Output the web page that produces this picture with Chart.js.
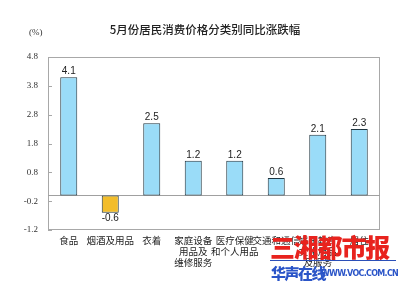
<!DOCTYPE html>
<html><head><meta charset="utf-8">
<script src="https://cdn.jsdelivr.net/npm/chart.js@4.4.1/dist/chart.umd.min.js"></script>
<style>
html,body{margin:0;padding:0;background:#fff;}
#wrap{position:relative;width:400px;height:283px;overflow:hidden;}
canvas{position:absolute;left:0;top:0;}
.t{position:absolute;white-space:nowrap;}
</style></head>
<body><div id="wrap">
<canvas id="c" width="400" height="283"></canvas>
<div class="t" style="left:0;width:410px;top:21px;text-align:center;font:500 11.5px 'Noto Sans CJK SC';color:#222;">5月份居民消费价格分类别同比涨跌幅</div>
<div class="t" style="left:29px;top:27px;font:9px 'Liberation Serif';color:#333;">(%)</div>
<div class="t" style="left:270px;top:231px;font:900 25px 'Noto Sans CJK SC';color:#e8231e;letter-spacing:-1.2px;line-height:30px;">三湘都市报</div>
<div class="t" style="left:270px;top:260px;width:126px;height:1px;background:#2b4fb8;"></div>
<div class="t" style="left:271px;top:263px;font:900 15px 'Noto Sans CJK SC';color:#2b55c8;line-height:20px;letter-spacing:-1.5px;">华声在线</div>
<div class="t" style="left:321px;top:269px;font:bold 8px 'DejaVu Sans';color:#2b55c8;letter-spacing:-0.7px;">WWW.VOC.COM.CN</div>
</div>
<script>
const categories = [["食品"],["烟酒及用品"],["衣着"],["家庭设备","用品及","维修服务"],["医疗保健","和个人用品"],["交通和通信"],["娱乐教育","文化用品","及服务"],["居住"]];
const values = [4.1, -0.6, 2.5, 1.2, 1.2, 0.6, 2.1, 2.3];
const yTicks = [-1.2, -0.2, 0.8, 1.8, 2.8, 3.8, 4.8];

const boxPlugin = {
  id:'box',
  beforeDatasetsDraw(chart){
    const {ctx, chartArea:a, scales:{y}} = chart;
    ctx.save();
    ctx.strokeStyle = '#a8a8a8'; ctx.lineWidth = 1;
    ctx.strokeRect(a.left+0.5, a.top+0.5, a.right-a.left-1, a.bottom-a.top-1);
    yTicks.forEach(v=>{
      const py = Math.round(y.getPixelForValue(v))+0.5;
      ctx.beginPath(); ctx.moveTo(a.left, py); ctx.lineTo(a.left+4, py); ctx.stroke();
    });
    const z = Math.round(y.getPixelForValue(0))+0.5;
    ctx.strokeStyle = '#a0a0a0';
    ctx.beginPath(); ctx.moveTo(a.left, z); ctx.lineTo(a.right, z); ctx.stroke();
    ctx.restore();
  },
  afterDatasetsDraw(chart){
    const {ctx} = chart;
    const meta = chart.getDatasetMeta(0);
    ctx.save();
    ctx.font = '10px "Liberation Sans"';
    ctx.fillStyle = '#222';
    ctx.textAlign = 'center';
    meta.data.forEach((bar,i)=>{
      const v = values[i];
      if (v >= 0) { ctx.textBaseline = 'bottom'; ctx.fillText(v.toFixed(1), bar.x, bar.y - 1); }
      else { ctx.textBaseline = 'top'; ctx.fillText(v.toFixed(1), bar.x, bar.y + 1); }
    });
    ctx.restore();
  }
};

new Chart(document.getElementById('c'), {
  type:'bar',
  data:{ labels: categories, datasets:[{
    data: values,
    backgroundColor: values.map(v => v < 0 ? '#f2bd2b' : '#9adcf8'),
    borderColor: '#1f3540',
    borderWidth: 1,
    borderSkipped: false,
    categoryPercentage: 1,
    barPercentage: 0.41
  }]},
  options:{
    responsive:false, animation:false,
    layout:{ padding:{ left:0, right:20, top:57, bottom:0 } },
    plugins:{ legend:{display:false}, tooltip:{enabled:false}, title:{display:false} },
    scales:{
      x:{
        grid:{display:false, drawTicks:false}, border:{display:false},
        ticks:{ font:{family:'Noto Sans CJK SC', size:9.5, lineHeight:1.15}, color:'#222', padding:5, maxRotation:0, autoSkip:false },
        afterFit(s){ s.height = 53; }
      },
      y:{
        min:-1.2, max:4.8,
        afterBuildTicks(s){ s.ticks = yTicks.map(v=>({value:v})); },
        grid:{display:false, drawTicks:false}, border:{display:false},
        ticks:{ font:{family:'Liberation Serif', size:9}, color:'#333', padding:10, callback:v=>Number(v).toFixed(1) },
        afterFit(s){ s.width = 48; }
      }
    }
  },
  plugins:[boxPlugin]
});
</script>
</body></html>
